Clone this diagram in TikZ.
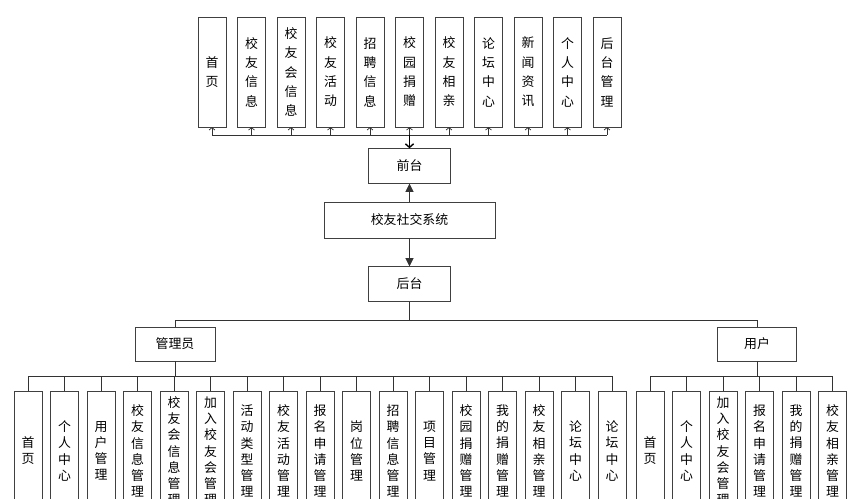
\documentclass[tikz,border=0pt]{standalone}
\usepackage{fontspec}
\newfontfamily\cjk{Noto Sans CJK SC}
\usetikzlibrary{arrows.meta,positioning}

\begin{document}
\begin{tikzpicture}[x=0.03cm, y=-0.03cm,
    box/.style={rectangle, draw=black!75, fill=white, font=\cjk\fontsize{11}{13}\selectfont, inner sep=1pt},
    tall/.style={box, minimum width=0.84cm, minimum height=3.3cm, align=center, font=\cjk\fontsize{11}{16.5}\selectfont},
    low/.style={box, minimum width=0.84cm, minimum height=3.6cm, align=center, font=\cjk\fontsize{11}{13.8}\selectfont},
    wide/.style={box, minimum width=2.45cm, minimum height=1.05cm},
    link/.style={draw=black!80, line width=0.6pt}
]
    \useasboundingbox (0,0) rectangle (858,498);
    \clip (0,0) rectangle (858,498);

    % middle column
    \node[wide] (front) at (409.5,166) {前台};
    \node[box, minimum width=5.13cm, minimum height=1.08cm] (sys) at (409.5,220) {校友社交系统};
    \node[wide] (back) at (409.5,284) {后台};
    \node[box, minimum width=2.4cm, minimum height=1.02cm] (admin) at (175,344) {管理员};
    \node[box, minimum width=2.37cm, minimum height=1.02cm] (user) at (757,344) {用户};

    % front pages
    \coordinate (fbus) at (409.5,135);
    \foreach \t [count=\i] in {{首\\页},{校\\友\\信\\息},{校\\友\\会\\信\\息},{校\\友\\活\\动},{招\\聘\\信\\息},{校\\园\\捐\\赠},{校\\友\\相\\亲},{论\\坛\\中\\心},{新\\闻\\资\\讯},{个\\人\\中\\心},{后\\台\\管\\理}} {
        \node[tall] (f\i) at ({212+39.5*(\i-1)},72) {\t};
        \draw[link, -{Straight Barb[length=2pt,width=5pt]}] (f\i.south |- fbus) -- (f\i.south);
    }
    \draw[link] (f1.south |- fbus) -- (f11.south |- fbus);
    \draw[line width=1.2pt, -{Straight Barb[length=3pt,width=7pt]}] (fbus) -- (front);

    \draw[link, -{Triangle[length=7pt,width=7pt]}] (sys) -- (front);
    \draw[link, -{Triangle[length=7pt,width=7pt]}] (sys) -- (back);

    % admin and user
    \coordinate (split) at (409.5,320);
    \draw[link] (back) -- (split);
    \draw[link] (admin.north |- split) -- (user.north |- split) ;
    \draw[link] (admin.north |- split) -- (admin.north);
    \draw[link] (user.north |- split) -- (user.north);

    \coordinate (abus) at (175,376);
    \draw[link] (admin) -- (abus);
    \foreach \t [count=\i] in {{首\\页},{个\\人\\中\\心},{用\\户\\管\\理},{校\\友\\信\\息\\管\\理},{校\\友\\会\\信\\息\\管\\理},{加\\入\\校\\友\\会\\管\\理},{活\\动\\类\\型\\管\\理},{校\\友\\活\\动\\管\\理},{报\\名\\申\\请\\管\\理},{岗\\位\\管\\理},{招\\聘\\信\\息\\管\\理},{项\\目\\管\\理},{校\\园\\捐\\赠\\管\\理},{我\\的\\捐\\赠\\管\\理},{校\\友\\相\\亲\\管\\理},{论\\坛\\中\\心},{论\\坛\\中\\心}} {
        \node[low] (a\i) at ({28+36.5*(\i-1)},451) {\t};
        \draw[link] (a\i.north |- abus) -- (a\i.north);
    }
    \draw[link] (a1.north |- abus) -- (a17.north |- abus);

    \coordinate (ubus) at (757,376);
    \draw[link] (user) -- (ubus);
    \foreach \t [count=\i] in {{首\\页},{个\\人\\中\\心},{加\\入\\校\\友\\会\\管\\理},{报\\名\\申\\请\\管\\理},{我\\的\\捐\\赠\\管\\理},{校\\友\\相\\亲\\管\\理}} {
        \node[low] (u\i) at ({650+36.5*(\i-1)},451) {\t};
        \draw[link] (u\i.north |- ubus) -- (u\i.north);
    }
    \draw[link] (u1.north |- ubus) -- (u6.north |- ubus);

\end{tikzpicture}
\end{document}
